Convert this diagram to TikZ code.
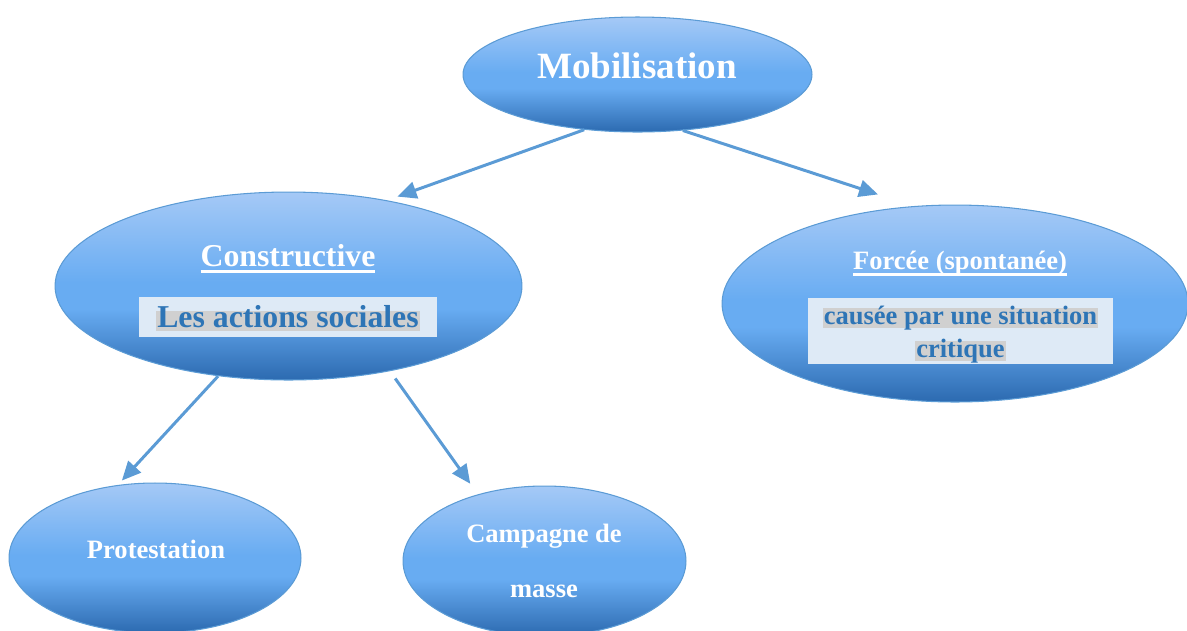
\documentclass[tikz,border=0pt]{standalone}
\usepackage{fontspec}
\setmainfont{Liberation Serif}
\usepackage{tikz}
\usetikzlibrary{shapes.geometric, arrows.meta}
\usepackage{xcolor}
\definecolor{ovtop}{RGB}{165,201,246}
\definecolor{ovmid}{RGB}{104,172,242}
\definecolor{ovbot}{RGB}{44,106,176}
\definecolor{ovline}{RGB}{91,155,213}
\definecolor{boxfill}{RGB}{222,234,246}
\definecolor{hlgray}{RGB}{208,208,208}
\definecolor{boxtext}{RGB}{46,117,182}
\pgfdeclareverticalshading{bubbleshade}{100bp}{color(0bp)=(ovbot); color(25bp)=(ovbot); color(44bp)=(ovmid); color(51bp)=(ovmid); color(75bp)=(ovtop); color(100bp)=(ovtop)}
\newcommand{\ulbar}[1]{\setbox0=\hbox{#1}\rlap{\rule[-3.8pt]{\wd0}{1.5pt}}\box0}

\begin{document}
\begin{tikzpicture}[x=0.02cm, y=-0.02cm,
	bubble/.style={ellipse, draw=ovline, line width=0.6pt, shade, shading=bubbleshade},
	link/.style={draw=ovline, line width=1.7pt, -{Triangle[length=0.38cm,width=0.34cm]}},
	hl/.style={fill=hlgray, text=boxtext, inner xsep=0.6pt, inner ysep=0pt, text height=0.92em, text depth=0.2em, anchor=base}]
		\useasboundingbox (0,0) rectangle (1187,630);
		% the five bubbles
		\node[bubble, minimum width=6.98cm, minimum height=2.3cm] (mob) at (637.5,74.5) {};
		\node[bubble, minimum width=9.34cm, minimum height=3.76cm] (con) at (288.5,286) {};
		\node[bubble, minimum width=9.32cm, minimum height=3.94cm] (forc) at (955,303.5) {};
		\node[bubble, minimum width=5.84cm, minimum height=3cm] (prot) at (155,558) {};
		\node[bubble, minimum width=5.66cm, minimum height=3cm] (camp) at (544.5,561) {};
		% titles
		\node[anchor=base, text=white, font=\bfseries\fontsize{21.1pt}{25pt}\selectfont] (mobtxt) at (637,78) {Mobilisation};
		\node[anchor=base, text=white, font=\bfseries\fontsize{18.1pt}{22pt}\selectfont] (contxt) at (288,266) {\ulbar{Constructive}};
		\node[anchor=base, text=white, font=\bfseries\fontsize{15.1pt}{18pt}\selectfont] (forctxt) at (960,269) {\ulbar{Forcée (spontanée)}};
		\node[anchor=base, text=white, font=\bfseries\fontsize{15.1pt}{18pt}\selectfont] (prottxt) at (156,558) {Protestation};
		\node[anchor=base, text=white, font=\bfseries\fontsize{15.1pt}{18pt}\selectfont] (camptxt) at (544,542) {Campagne de};
		\node[anchor=base, text=white, font=\bfseries\fontsize{15.1pt}{18pt}\selectfont] (masstxt) at (544,597) {masse};
		% highlighted boxes
		\node[fill=boxfill, minimum width=5.96cm, minimum height=0.8cm, inner sep=0pt] (conbox) at (288,317) {};
		\node[hl, font=\bfseries\fontsize{18.1pt}{22pt}\selectfont] (actions) at (288,327) {Les actions sociales};
		\node[fill=boxfill, minimum width=6.1cm, minimum height=1.32cm, inner sep=0pt] (forcbox) at (960.5,331) {};
		\node[hl, font=\bfseries\fontsize{15.1pt}{18pt}\selectfont] (cause) at (960.5,324) {causée par une situation};
		\node[hl, font=\bfseries\fontsize{15.1pt}{18pt}\selectfont] (crit) at (960.5,357) {critique};
		% arrows
		\draw[link, shorten >=0.22cm] (mob.226) -- (con.41);
		\draw[link, shorten >=0.75cm] (mob.309) -- (forc.113);
		\draw[link, shorten >=0.12cm] (con.232) -- (prot.117);
		\draw[link, shorten <=0.18cm, shorten >=0.26cm] (con.320) -- (camp.135);
	\end{tikzpicture}
\end{document}
